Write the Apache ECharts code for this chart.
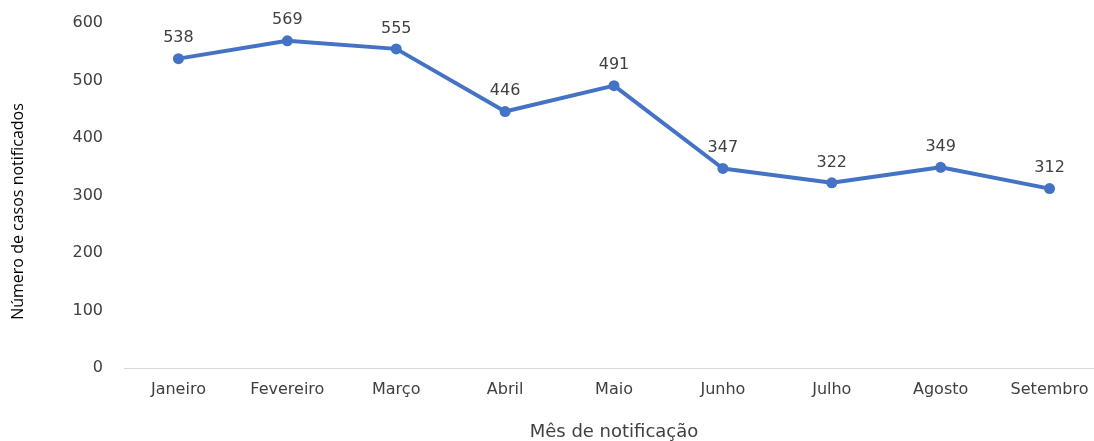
<!DOCTYPE html>
<html>
<head>
<meta charset="utf-8">
<script src="https://cdn.jsdelivr.net/npm/echarts@6/dist/echarts.min.js"></script>
<style>
  html, body { margin: 0; padding: 0; background: #fff; }
  #chart { width: 1094px; height: 441px; }
</style>
</head>
<body>
<div id="chart"></div>
<script>
const months = ['Janeiro', 'Fevereiro', 'Março', 'Abril', 'Maio', 'Junho', 'Julho', 'Agosto', 'Setembro']
const cases = [538, 569, 555, 446, 491, 347, 322, 349, 312]

const textColor = '#404040'
const font = 'DejaVu Sans'

const chart = echarts.init(document.getElementById('chart'))
chart.setOption({
  animation: false,
  grid: {
    left: 124,
    right: -10,
    top: 23,
    bottom: 73,
    outerBoundsMode: 'none'
  },
  xAxis: {
    type: 'category',
    data: months,
    name: 'Mês de notificação',
    nameLocation: 'middle',
    nameGap: 55,
    nameTextStyle: { color: textColor, fontFamily: font, fontSize: 18 },
    axisLine: { lineStyle: { color: '#d9d9d9', width: 1 } },
    axisTick: { show: false },
    axisLabel: { color: textColor, fontFamily: font, fontSize: 16, margin: 14 }
  },
  yAxis: {
    type: 'value',
    min: 0,
    max: 600,
    interval: 100,
    name: 'Número de casos notificados',
    nameLocation: 'middle',
    nameGap: 98,
    nameTextStyle: { color: '#000', fontFamily: 'Open Sans', fontSize: 16, padding: [0, 32, 0, 0] },
    splitLine: { show: false },
    axisLine: { show: false },
    axisTick: { show: false },
    axisLabel: { color: textColor, fontFamily: font, fontSize: 16, margin: 21 }
  },
  series: [{
    type: 'line',
    data: cases,
    symbol: 'circle',
    symbolSize: 11,
    lineStyle: { color: '#4472C4', width: 4 },
    itemStyle: { color: '#4472C4' },
    label: {
      show: true,
      position: 'top',
      distance: 7,
      color: textColor,
      fontFamily: font,
      fontSize: 16
    }
  }]
})
</script>
</body>
</html>
